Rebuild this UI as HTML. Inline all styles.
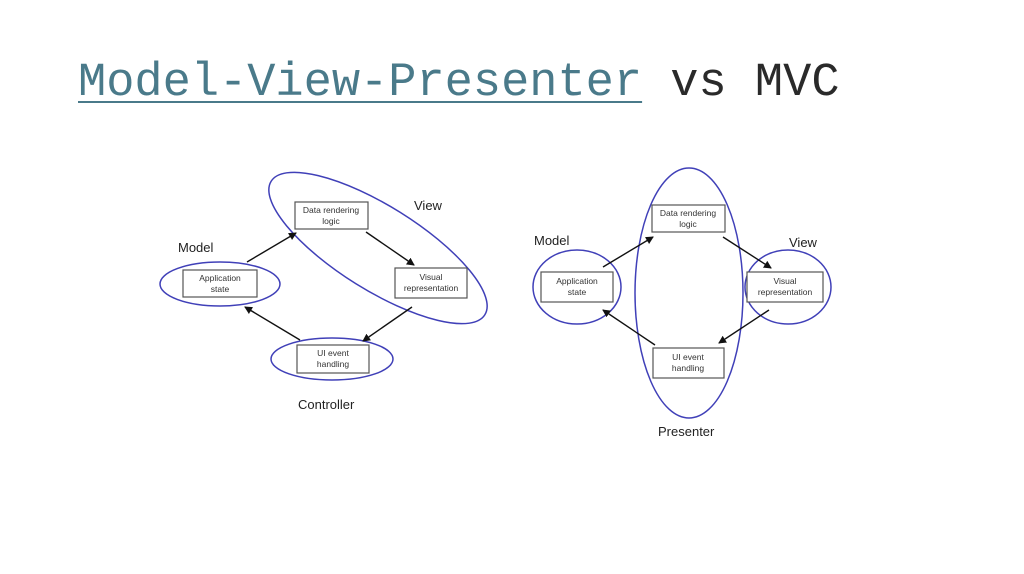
<!DOCTYPE html>
<html><head><meta charset="utf-8"><style>
html,body{margin:0;padding:0;background:#fff;width:1024px;height:574px;overflow:hidden}
.t{position:absolute;left:78px;top:58px;font-family:"Liberation Mono",monospace;font-size:47px;color:#2a2a2a;white-space:pre;line-height:52px}
.u{color:#4a7a8a;text-decoration:underline;text-decoration-thickness:2px;text-underline-offset:6px}
</style></head><body>
<div class="t"><span class="u">Model-View-Presenter</span> vs MVC</div>
<svg width="1024" height="574" style="position:absolute;left:0;top:0" font-family="Liberation Sans, sans-serif">
<defs><marker id="a" markerWidth="8" markerHeight="8" refX="7" refY="4" orient="auto" markerUnits="userSpaceOnUse"><path d="M0,0 L8,4 L0,8 z" fill="#111"/></marker></defs>
<g fill="none" stroke="#4040b8" stroke-width="1.5">
<ellipse cx="378" cy="248" rx="126" ry="42" transform="rotate(32 378 248)"/>
<ellipse cx="220" cy="284" rx="60" ry="22"/>
<ellipse cx="332" cy="359" rx="61" ry="21"/>
<ellipse cx="689" cy="293" rx="54" ry="125"/>
<ellipse cx="577" cy="287" rx="44" ry="37"/>
<ellipse cx="788" cy="287" rx="43" ry="37"/>
</g>
<g fill="#fff" stroke="#555" stroke-width="1.2">
<rect x="295" y="202" width="73" height="27"/>
<rect x="395" y="268" width="72" height="30"/>
<rect x="183" y="270" width="74" height="27"/>
<rect x="297" y="345" width="72" height="28"/>
<rect x="652" y="205" width="73" height="27"/>
<rect x="541" y="272" width="72" height="30"/>
<rect x="747" y="272" width="76" height="30"/>
<rect x="653" y="348" width="71" height="30"/>
</g>
<g stroke="#111" stroke-width="1.4" marker-end="url(#a)">
<line x1="247" y1="262" x2="296" y2="233"/>
<line x1="366" y1="232" x2="414" y2="265"/>
<line x1="412" y1="307" x2="363" y2="341"/>
<line x1="300" y1="340" x2="245" y2="307"/>
<line x1="603" y1="267" x2="653" y2="237"/>
<line x1="723" y1="237" x2="771" y2="268"/>
<line x1="769" y1="310" x2="719" y2="343"/>
<line x1="655" y1="345" x2="603" y2="310"/>
</g>
<g font-size="8.5" fill="#333" text-anchor="middle">
<text x="331" y="213">Data rendering</text><text x="331" y="224">logic</text>
<text x="431" y="280">Visual</text><text x="431" y="291">representation</text>
<text x="220" y="281">Application</text><text x="220" y="292">state</text>
<text x="333" y="356">UI event</text><text x="333" y="367">handling</text>
<text x="688" y="216">Data rendering</text><text x="688" y="227">logic</text>
<text x="577" y="284">Application</text><text x="577" y="295">state</text>
<text x="785" y="284">Visual</text><text x="785" y="295">representation</text>
<text x="688" y="360">UI event</text><text x="688" y="371">handling</text>
</g>
<g font-size="13" fill="#222">
<text x="414" y="210">View</text>
<text x="178" y="252">Model</text>
<text x="298" y="409">Controller</text>
<text x="534" y="245">Model</text>
<text x="789" y="247">View</text>
<text x="658" y="436">Presenter</text>
</g>
</svg>
</body></html>
